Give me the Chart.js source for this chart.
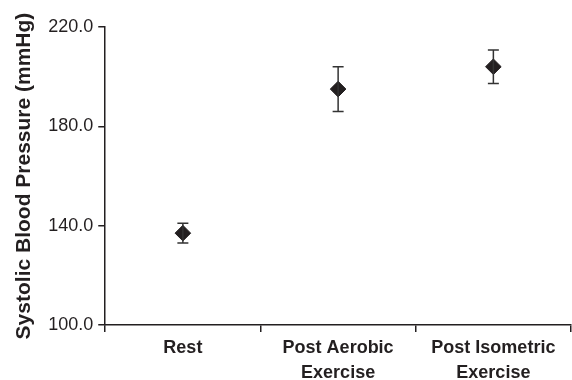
<!DOCTYPE html>
<html lang="en">
<head>
  <meta charset="UTF-8">
  <title>Systolic Blood Pressure</title>
  <script src="https://cdn.jsdelivr.net/npm/chart.js"></script>
  <style>
    body {
      margin: 0;
      background: #fff;
    }
    #grafico-container {
      width: 572px;
      height: 380px;
    }
  </style>
</head>
<body>
  <div id="grafico-container">
    <canvas id="grafico"></canvas>
  </div>

  <script>
    const categorias = ["Rest", ["Post Aerobic", "Exercise"], ["Post Isometric", "Exercise"]];
    const medias = [137, 195, 204];
    const erros = [4, 9, 6.7];
    const yTicks = [100, 140, 180, 220];

    const corEscura = "#231f20";

    // desenha as barras de erro usando as escalas do gráfico
    const barrasErro = {
      id: "barrasErro",
      afterDatasetsDraw(chart) {
        const ctx = chart.ctx;
        const x = chart.scales.x;
        const y = chart.scales.y;
        ctx.save();
        ctx.strokeStyle = "#333";
        ctx.lineWidth = 1.5;
        medias.forEach((m, i) => {
          const px = x.getPixelForValue(i);
          const top = y.getPixelForValue(m + erros[i]);
          const bot = y.getPixelForValue(m - erros[i]);
          ctx.beginPath();
          ctx.moveTo(px, top); ctx.lineTo(px, bot);
          ctx.moveTo(px - 5.5, top); ctx.lineTo(px + 5.5, top);
          ctx.moveTo(px - 5.5, bot); ctx.lineTo(px + 5.5, bot);
          ctx.stroke();
        });
        ctx.restore();
      }
    };

    new Chart(document.getElementById("grafico"), {
      type: "line",
      data: {
        labels: categorias,
        datasets: [{
          data: medias,
          showLine: false,
          pointStyle: "rectRot",
          pointRadius: 7.8,
          pointBackgroundColor: corEscura,
          pointBorderColor: corEscura,
          pointBorderWidth: 1
        }]
      },
      options: {
        responsive: true,
        maintainAspectRatio: false,
        animation: false,
        layout: { autoPadding: false, padding: { top: 27, right: 1, left: 12, bottom: -9 } },
        plugins: {
          legend: { display: false },
          tooltip: { enabled: false }
        },
        scales: {
          x: {
            offset: true,
            grid: {
              offset: true,
              drawOnChartArea: false,
              drawTicks: true,
              tickLength: 7,
              color: corEscura,
              lineWidth: 1.5
            },
            border: { display: true, color: corEscura, width: 1.5 },
            ticks: {
              color: corEscura,
              padding: 4,
              maxRotation: 0,
              autoSkip: false,
              font: { family: "Liberation Sans, Arial", size: 18, weight: "bold", lineHeight: 1.36 }
            }
          },
          y: {
            min: 100,
            max: 220,
            afterBuildTicks(axis) {
              axis.ticks = yTicks.map(v => ({ value: v }));
            },
            grid: {
              drawOnChartArea: false,
              drawTicks: true,
              tickLength: 7,
              color: corEscura,
              lineWidth: 1.5
            },
            border: { display: true, color: corEscura, width: 1.5 },
            ticks: {
              color: corEscura,
              padding: 5,
              callback: v => v.toFixed(1),
              font: { family: "Liberation Sans, Arial", size: 18 }
            },
            title: {
              display: true,
              text: "Systolic Blood Pressure (mmHg)",
              color: corEscura,
              padding: { top: 0, bottom: 6 },
              font: { family: "Liberation Sans, Arial", size: 21, weight: "bold", lineHeight: 1.2 }
            }
          }
        }
      },
      plugins: [barrasErro]
    });
  </script>
</body>
</html>
